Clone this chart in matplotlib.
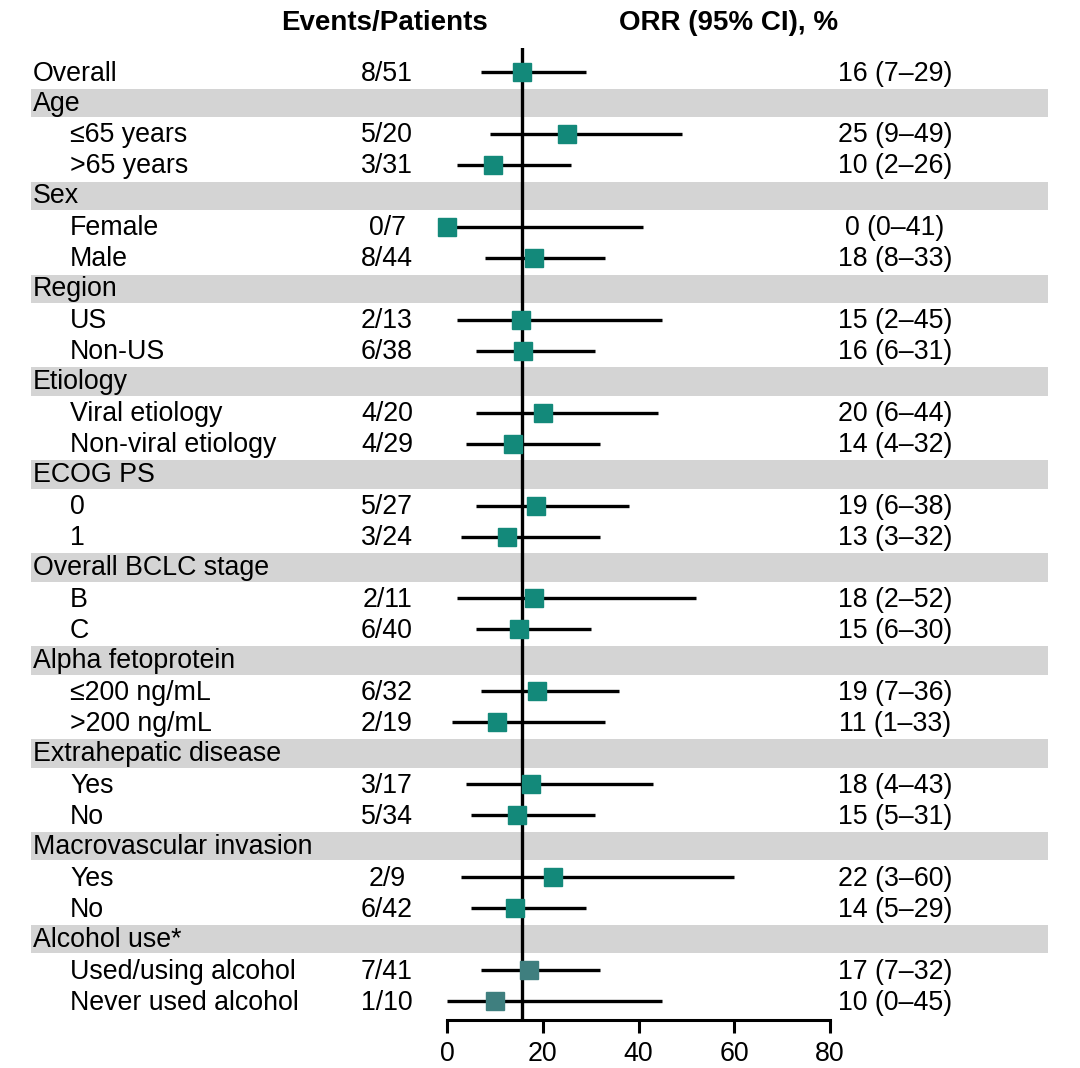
import matplotlib
matplotlib.use("Agg")
import matplotlib.pyplot as plt
import matplotlib.transforms as mtransforms
from matplotlib.patches import Rectangle

plt.rcParams['font.family'] = ['Liberation Sans', 'DejaVu Sans']

# ---- data ----
labels = ["Overall", "Age", "≤65 years", ">65 years", "Sex", "Female", "Male",
          "Region", "US", "Non-US", "Etiology", "Viral etiology", "Non-viral etiology",
          "ECOG PS", "0", "1", "Overall BCLC stage", "B", "C",
          "Alpha fetoprotein", "≤200 ng/mL", ">200 ng/mL",
          "Extrahepatic disease", "Yes", "No", "Macrovascular invasion", "Yes", "No",
          "Alcohol use*", "Used/using alcohol", "Never used alcohol"]
is_header = [False, True, False, False, True, False, False,
             True, False, False, True, False, False,
             True, False, False, True, False, False,
             True, False, False,
             True, False, False, True, False, False,
             True, False, False]
events = ["8/51", None, "5/20", "3/31", None, "0/7", "8/44",
          None, "2/13", "6/38", None, "4/20", "4/29",
          None, "5/27", "3/24", None, "2/11", "6/40",
          None, "6/32", "2/19",
          None, "3/17", "5/34", None, "2/9", "6/42",
          None, "7/41", "1/10"]
orr = [15.7, None, 25.0, 9.7, None, 0.0, 18.2,
       None, 15.4, 15.8, None, 20.0, 13.8,
       None, 18.5, 12.5, None, 18.2, 15.0,
       None, 18.8, 10.5,
       None, 17.6, 14.7, None, 22.2, 14.3,
       None, 17.1, 10.0]
ci_lo = [7, None, 9, 2, None, 0, 8,
         None, 2, 6, None, 6, 4,
         None, 6, 3, None, 2, 6,
         None, 7, 1,
         None, 4, 5, None, 3, 5,
         None, 7, 0]
ci_hi = [29, None, 49, 26, None, 41, 33,
         None, 45, 31, None, 44, 32,
         None, 38, 32, None, 52, 30,
         None, 36, 33,
         None, 43, 31, None, 60, 29,
         None, 32, 45]
orr_text = ["16 (7–29)", None, "25 (9–49)", "10 (2–26)", None, "0 (0–41)", "18 (8–33)",
            None, "15 (2–45)", "16 (6–31)", None, "20 (6–44)", "14 (4–32)",
            None, "19 (6–38)", "13 (3–32)", None, "18 (2–52)", "15 (6–30)",
            None, "19 (7–36)", "11 (1–33)",
            None, "18 (4–43)", "15 (5–31)", None, "22 (3–60)", "14 (5–29)",
            None, "17 (7–32)", "10 (0–45)"]
overall_orr = 15.7
xticks = [0, 20, 40, 60, 80]

# ---- figure ----
W, H = 1080, 1068
fig = plt.figure(figsize=(W / 100, H / 100), dpi=100)
ax_left, ax_right = 447 / W, 830 / W
ax_bottom, ax_top = (H - 1020) / H, (H - 48) / H
ax = fig.add_axes([ax_left, ax_bottom, ax_right - ax_left, ax_top - ax_bottom])

n = len(labels)
row_px = (1001 - 72) / (n - 1)
y_bottom = (n - 1) + (1020 - 1001) / row_px
y_top = (48 - 72) / row_px
ax.set_xlim(0, 80)
ax.set_ylim(y_bottom, y_top)

teal = "#13897a"
alc = "#3f7f7f"
fs = 19.3

trans = mtransforms.blended_transform_factory(fig.transFigure, ax.transData)

group = None
for i in range(n):
    if is_header[i]:
        group = labels[i]
        r = Rectangle((31 / W, i - 0.46), (1048 - 31) / W, 0.92, transform=trans,
                      facecolor="#d4d4d4", edgecolor="none", clip_on=False, zorder=0)
        fig.add_artist(r)
        fig.text(33 / W, i + 0.02, labels[i], transform=trans, fontsize=fs,
                 va="center", ha="left", zorder=2)
        continue
    xlab = 33 / W if i == 0 else 70 / W
    fig.text(xlab, i + 0.05, labels[i], transform=trans, fontsize=fs,
             va="center", ha="left")
    fig.text(387 / W, i + 0.05, events[i], transform=trans, fontsize=fs,
             va="center", ha="center")
    fig.text(895 / W, i + 0.05, orr_text[i], transform=trans, fontsize=fs,
             va="center", ha="center")
    ax.plot([ci_lo[i], ci_hi[i]], [i, i], color="black", lw=2.4,
            solid_capstyle="butt", zorder=3, clip_on=False)
    col = alc if group == "Alcohol use*" else teal
    ax.plot([orr[i]], [i], marker="s", ms=13.5, color=col, mec=col,
            linestyle="none", zorder=5, clip_on=False)

ax.axvline(overall_orr, color="black", lw=2.4, zorder=4)

for s in ["left", "right", "top"]:
    ax.spines[s].set_visible(False)
ax.spines["bottom"].set_linewidth(2.2)
ax.set_yticks([])
ax.set_xticks(xticks)
ax.tick_params(axis="x", length=9, width=2.2, labelsize=fs, pad=6)
ax.patch.set_alpha(0)

fig.text(385 / W, 1 - 23 / H, "Events/Patients", fontsize=20, fontweight="bold",
         ha="center", va="center")
fig.text(729 / W, 1 - 23 / H, "ORR (95% CI), %", fontsize=20, fontweight="bold",
         ha="center", va="center")

fig.savefig("out.png", dpi=100)
